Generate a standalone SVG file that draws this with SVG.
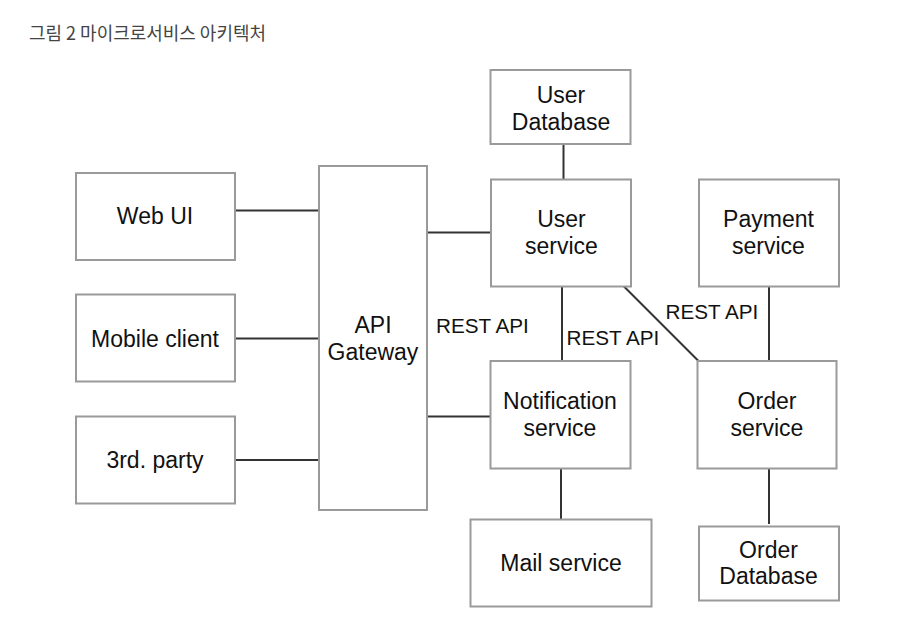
<svg xmlns="http://www.w3.org/2000/svg" width="920" height="619" viewBox="0 0 920 619">
<style>
.box{fill:#fff;stroke:#9a9a9a;stroke-width:2}
.lbl{font-family:"Liberation Sans",Arial,sans-serif;font-size:23px;fill:#111;text-anchor:middle}
.api{font-family:"Liberation Sans",Arial,sans-serif;font-size:20.7px;fill:#111}
.con{stroke:#333;stroke-width:2;fill:none}
.title{font-family:"Noto Sans CJK KR","Noto Sans",sans-serif;font-size:18px;fill:#444}
</style>
<rect width="920" height="619" fill="#fff"/>
<text class="title" x="29" y="40" textLength="237" lengthAdjust="spacingAndGlyphs">그림 2 마이크로서비스 아키텍처</text>
<g id="connectors">
<line class="con" x1="235" y1="210.5" x2="319" y2="210.5"/>
<line class="con" x1="235" y1="338.5" x2="319" y2="338.5"/>
<line class="con" x1="235" y1="460" x2="319" y2="460"/>
<line class="con" x1="427" y1="232.5" x2="494" y2="232.5"/>
<line class="con" x1="427" y1="416.5" x2="494" y2="416.5"/>
<line class="con" x1="563.5" y1="144" x2="563.5" y2="179"/>
<line class="con" x1="562" y1="286" x2="562" y2="361"/>
<line class="con" x1="622.5" y1="285" x2="698.5" y2="361"/>
<line class="con" x1="769" y1="286" x2="769" y2="361"/>
<line class="con" x1="561" y1="468" x2="561" y2="519"/>
<line class="con" x1="769" y1="468" x2="769" y2="524"/>
<text class="api" x="436" y="333">REST API</text>
<text class="api" x="566.5" y="345">REST API</text>
<text class="api" x="665.5" y="319">REST API</text>
</g>
<g id="web-ui"><rect class="box" x="76" y="173" width="159" height="87"/><text class="lbl" x="155" y="224">Web UI</text></g>
<g id="mobile-client"><rect class="box" x="76" y="294.5" width="159" height="87"/><text class="lbl" x="155" y="347">Mobile client</text></g>
<g id="third-party"><rect class="box" x="76" y="416.5" width="159" height="87"/><text class="lbl" x="155" y="468">3rd. party</text></g>
<g id="api-gateway"><rect class="box" x="319" y="166" width="108" height="344"/><text class="lbl" x="373" y="332.5">API</text><text class="lbl" x="373" y="359.5">Gateway</text></g>
<g id="user-database"><rect class="box" x="490.5" y="70" width="140" height="74"/><text class="lbl" x="561" y="102.5">User</text><text class="lbl" x="561" y="129.5">Database</text></g>
<g id="user-service"><rect class="box" x="491" y="179.5" width="140" height="107"/><text class="lbl" x="561.5" y="226.5">User</text><text class="lbl" x="561.5" y="254">service</text></g>
<g id="payment-service"><rect class="box" x="699" y="179.5" width="140" height="107"/><text class="lbl" x="768.5" y="226.5">Payment</text><text class="lbl" x="768.5" y="254">service</text></g>
<g id="notification-service"><rect class="box" x="490.5" y="361" width="140" height="107.5"/><text class="lbl" x="560" y="408.5">Notification</text><text class="lbl" x="560" y="436">service</text></g>
<g id="order-service"><rect class="box" x="697.5" y="361" width="139" height="107.5"/><text class="lbl" x="767" y="408.5">Order</text><text class="lbl" x="767" y="436">service</text></g>
<g id="mail-service"><rect class="box" x="470.5" y="519.5" width="181" height="87"/><text class="lbl" x="561" y="571">Mail service</text></g>
<g id="order-database"><rect class="box" x="699" y="526.5" width="140" height="74"/><text class="lbl" x="768.5" y="557.5">Order</text><text class="lbl" x="768.5" y="584">Database</text></g>
</svg>
